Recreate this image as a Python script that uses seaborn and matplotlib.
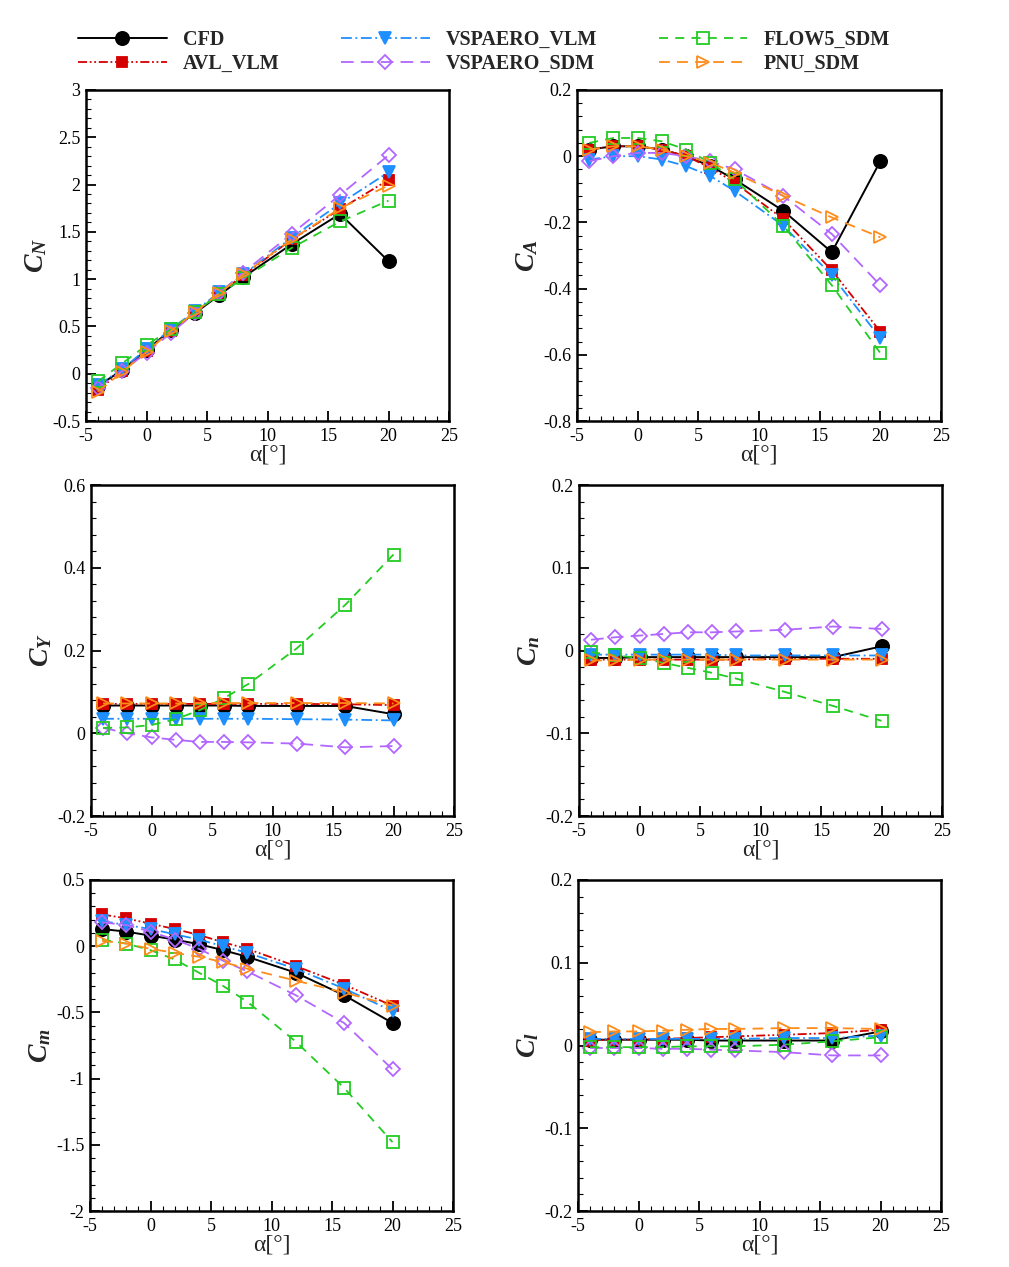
import numpy as np
import pandas as pd
import matplotlib
matplotlib.use("Agg")
import matplotlib.pyplot as plt
from matplotlib.ticker import MultipleLocator, FuncFormatter
import seaborn as sns

sns.set_theme(style="white")
plt.rcParams['font.family'] = ['Liberation Serif', 'DejaVu Serif']
plt.rcParams['axes.unicode_minus'] = False
plt.rcParams['mathtext.fontset'] = 'custom'
plt.rcParams['mathtext.rm'] = 'Liberation Serif'
plt.rcParams['mathtext.it'] = 'Liberation Serif:italic:bold'
plt.rcParams['mathtext.bf'] = 'Liberation Serif:bold'

alpha = [-4, -2, 0, 2, 4, 6, 8, 12, 16, 20]
series_names = ["CFD", "AVL_VLM", "VSPAERO_VLM", "VSPAERO_SDM", "FLOW5_SDM", "PNU_SDM"]

CN = {
    "CFD":         [-0.13, 0.04, 0.25, 0.46, 0.64, 0.83, 1.02, 1.37, 1.69, 1.19],
    "AVL_VLM":     [-0.17, 0.03, 0.24, 0.45, 0.65, 0.85, 1.04, 1.42, 1.74, 2.05],
    "VSPAERO_VLM": [-0.12, 0.05, 0.26, 0.47, 0.66, 0.86, 1.05, 1.44, 1.80, 2.13],
    "VSPAERO_SDM": [-0.15, 0.03, 0.22, 0.43, 0.64, 0.85, 1.07, 1.48, 1.89, 2.31],
    "FLOW5_SDM":   [-0.08, 0.11, 0.30, 0.47, 0.65, 0.84, 1.01, 1.33, 1.61, 1.83],
    "PNU_SDM":     [-0.19, 0.02, 0.23, 0.45, 0.65, 0.85, 1.05, 1.42, 1.75, 1.99],
}
CA = {
    "CFD":         [0.02, 0.03, 0.03, 0.02, 0.0, -0.03, -0.07, -0.165, -0.29, -0.015],
    "AVL_VLM":     [0.02, 0.03, 0.03, 0.02, 0.0, -0.035, -0.08, -0.19, -0.345, -0.53],
    "VSPAERO_VLM": [-0.01, 0.0, 0.0, -0.01, -0.03, -0.06, -0.105, -0.21, -0.36, -0.55],
    "VSPAERO_SDM": [-0.015, 0.0, 0.01, 0.01, 0.0, -0.015, -0.04, -0.12, -0.235, -0.39],
    "FLOW5_SDM":   [0.04, 0.055, 0.055, 0.045, 0.02, -0.02, -0.07, -0.21, -0.39, -0.595],
    "PNU_SDM":     [0.02, 0.03, 0.03, 0.02, 0.0, -0.02, -0.05, -0.12, -0.185, -0.245],
}
CY = {
    "CFD":         [0.067, 0.067, 0.067, 0.067, 0.067, 0.067, 0.066, 0.066, 0.066, 0.046],
    "AVL_VLM":     [0.071, 0.071, 0.071, 0.071, 0.071, 0.071, 0.071, 0.071, 0.070, 0.068],
    "VSPAERO_VLM": [0.035, 0.035, 0.035, 0.035, 0.035, 0.035, 0.035, 0.034, 0.033, 0.031],
    "VSPAERO_SDM": [0.013, 0.0, -0.010, -0.016, -0.021, -0.021, -0.022, -0.025, -0.034, -0.031],
    "FLOW5_SDM":   [0.013, 0.014, 0.020, 0.034, 0.056, 0.085, 0.119, 0.205, 0.310, 0.432],
    "PNU_SDM":     [0.072, 0.072, 0.072, 0.072, 0.073, 0.073, 0.073, 0.073, 0.073, 0.072],
}
Cn = {
    "CFD":         [-0.009, -0.009, -0.008, -0.008, -0.008, -0.008, -0.008, -0.008, -0.008, 0.005],
    "AVL_VLM":     [-0.011, -0.011, -0.011, -0.011, -0.011, -0.011, -0.011, -0.010, -0.010, -0.010],
    "VSPAERO_VLM": [-0.005, -0.005, -0.005, -0.005, -0.005, -0.005, -0.006, -0.006, -0.006, -0.006],
    "VSPAERO_SDM": [0.013, 0.016, 0.018, 0.020, 0.022, 0.022, 0.023, 0.025, 0.029, 0.026],
    "FLOW5_SDM":   [-0.002, -0.006, -0.009, -0.015, -0.021, -0.027, -0.034, -0.050, -0.067, -0.085],
    "PNU_SDM":     [-0.012, -0.012, -0.011, -0.011, -0.011, -0.011, -0.011, -0.011, -0.011, -0.011],
}
Cm = {
    "CFD":         [0.13, 0.11, 0.08, 0.05, 0.015, -0.03, -0.08, -0.20, -0.37, -0.58],
    "AVL_VLM":     [0.24, 0.21, 0.17, 0.13, 0.085, 0.03, -0.02, -0.15, -0.29, -0.45],
    "VSPAERO_VLM": [0.19, 0.16, 0.13, 0.09, 0.05, 0.0, -0.05, -0.17, -0.32, -0.49],
    "VSPAERO_SDM": [0.18, 0.16, 0.11, 0.05, -0.02, -0.11, -0.19, -0.37, -0.58, -0.93],
    "FLOW5_SDM":   [0.05, 0.02, -0.03, -0.10, -0.20, -0.30, -0.42, -0.72, -1.07, -1.48],
    "PNU_SDM":     [0.04, 0.02, -0.02, -0.05, -0.08, -0.12, -0.17, -0.26, -0.35, -0.45],
}
Cl = {
    "CFD":         [0.007, 0.007, 0.007, 0.007, 0.007, 0.006, 0.006, 0.006, 0.006, 0.017],
    "AVL_VLM":     [0.006, 0.007, 0.007, 0.008, 0.009, 0.010, 0.011, 0.013, 0.015, 0.019],
    "VSPAERO_VLM": [0.008, 0.008, 0.008, 0.008, 0.008, 0.008, 0.008, 0.009, 0.009, 0.012],
    "VSPAERO_SDM": [-0.003, -0.003, -0.003, -0.004, -0.004, -0.005, -0.006, -0.008, -0.012, -0.012],
    "FLOW5_SDM":   [-0.002, -0.002, -0.002, -0.002, -0.001, -0.001, -0.001, 0.001, 0.005, 0.010],
    "PNU_SDM":     [0.016, 0.017, 0.017, 0.018, 0.019, 0.020, 0.020, 0.021, 0.021, 0.020],
}

styles = {
    "CFD":         dict(color="black", ls="-", marker="o", mfc="black", ms=9.5, lw=1.4),
    "AVL_VLM":     dict(color="#d40000", ls=(0, (5, 1.5, 1, 1.5, 1, 1.5)), marker="s", mfc="#d40000", ms=7, lw=1.3),
    "VSPAERO_VLM": dict(color="#1e8fff", ls=(0, (6, 2, 1, 2)), marker="v", mfc="#1e8fff", ms=8, lw=1.3),
    "VSPAERO_SDM": dict(color="#b266ff", ls=(0, (7, 4)), marker="D", mfc="none", ms=7.5, lw=1.3),
    "FLOW5_SDM":   dict(color="#22cc22", ls=(0, (5, 4)), marker="s", mfc="none", ms=8, lw=1.3),
    "PNU_SDM":     dict(color="#ff8c1a", ls=(0, (6, 4)), marker=">", mfc="none", ms=9, lw=1.3),
}

panels = [
    (CN, r"$C_N$", (-0.5, 3.0), 0.5, 0.1, [86, 90, 449, 421]),
    (CA, r"$C_A$", (-0.8, 0.2), 0.2, 0.04, [577, 90, 941, 421]),
    (CY, r"$C_Y$", (-0.2, 0.6), 0.2, 0.04, [91, 485, 454, 816]),
    (Cn, r"$C_n$", (-0.2, 0.2), 0.1, 0.02, [579, 485, 942, 816]),
    (Cm, r"$C_m$", (-2.0, 0.5), 0.5, 0.1, [90, 880, 453, 1211]),
    (Cl, r"$C_l$", (-0.2, 0.2), 0.1, 0.02, [578, 880, 941, 1211]),
]

W, H = 1009, 1267
fig = plt.figure(figsize=(W / 100, H / 100), dpi=100)

handles = []
for k, (data, ylab, ylim, maj, mnr, box) in enumerate(panels):
    l, t, r, b = box
    ax = fig.add_axes([l / W, 1 - b / H, (r - l) / W, (b - t) / H])
    for name in series_names:
        st = styles[name]
        df = pd.DataFrame({"alpha": alpha, "val": data[name]})
        sns.lineplot(data=df, x="alpha", y="val", ax=ax, color=st["color"],
                     linestyle=st["ls"], linewidth=st["lw"], marker=st["marker"],
                     markersize=st["ms"], markerfacecolor=st["mfc"],
                     markeredgecolor=st["color"], markeredgewidth=1.3,
                     label=name, legend=False)
    if k == 0:
        handles = ax.get_lines()[:6]
    ax.set_xlim(-5, 25)
    ax.set_ylim(*ylim)
    ax.xaxis.set_major_locator(MultipleLocator(5))
    ax.xaxis.set_minor_locator(MultipleLocator(1))
    ax.yaxis.set_major_locator(MultipleLocator(maj))
    ax.yaxis.set_minor_locator(MultipleLocator(mnr))
    ax.tick_params(which="both", direction="in", left=True, bottom=True, top=False, right=False,
                   labelsize=13, colors="black")
    ax.tick_params(axis="y", pad=4)
    ax.tick_params(axis="x", pad=5)
    ax.tick_params(which="major", length=7, width=1.3)
    ax.tick_params(which="minor", length=3.5, width=0.8)
    ax.yaxis.set_major_formatter(FuncFormatter(lambda v, p: f"{v:g}"))
    ax.xaxis.set_major_formatter(FuncFormatter(lambda v, p: f"{v:g}"))
    for s in ax.spines.values():
        s.set_linewidth(1.8)
        s.set_color("black")
    ax.set_xlabel("α[°]", fontsize=17, labelpad=0)
    ax.set_ylabel(ylab, fontsize=20, labelpad=2)

fig.legend(handles=handles, labels=series_names, loc="upper left",
           bbox_to_anchor=(60 / W, 1 - 12 / H), ncol=3, frameon=False,
           handlelength=4.4, columnspacing=3.05, handletextpad=0.8, labelspacing=0.2,
           prop={"family": "Liberation Serif", "weight": "bold", "size": 14.5})

fig.savefig("out.png", dpi=100)
